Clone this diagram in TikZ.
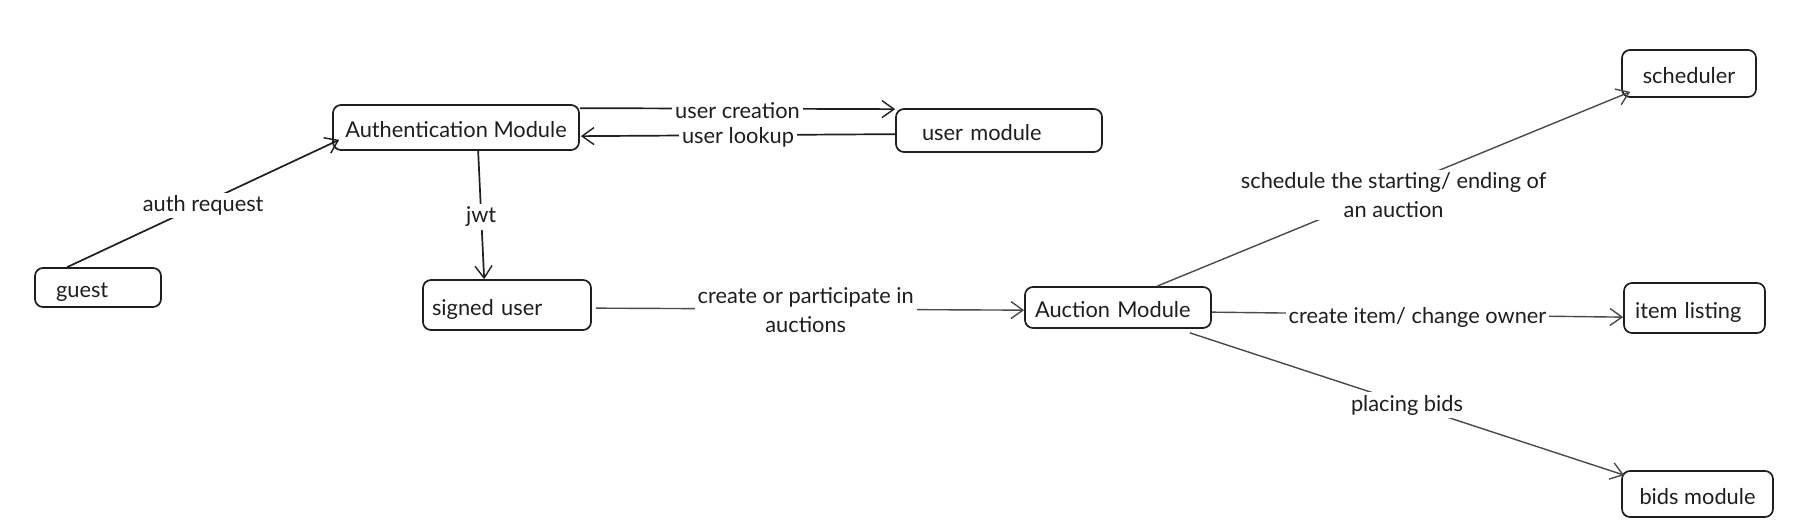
\documentclass[tikz,border=0pt]{standalone}
\usepackage{fontspec}
\setmainfont{Lato}
\usetikzlibrary{arrows.meta}
\definecolor{ink}{HTML}{1E1E1E}
\definecolor{edge}{HTML}{4A4A4A}
\tikzset{
  box/.style={draw=ink, line width=1.7pt, rounded corners=8pt, align=left,
    font=\fontsize{21.8}{26}\selectfont, text=ink, anchor=center,
    text height=20pt, text depth=0pt},
  cbox/.style={box, align=center},
  lbl/.style={fill=white, inner sep=3pt, font=\fontsize{21.8}{28.5}\selectfont, text=ink, align=center},
  conn/.style={draw=edge, line width=1.4pt, -{Straight Barb[length=12pt,width=17pt,line width=1.4pt]}},
  dconn/.style={conn, draw=ink, line width=1.7pt}
}
\begin{document}
\begin{tikzpicture}[x=1pt,y=-1pt]
\useasboundingbox (0,0) rectangle (1818,532);
% boxes
\node[box, minimum height=39pt, inner xsep=21pt, text width=84pt] (guest) at (98,287.5) {guest};
\node[cbox, minimum height=45pt, minimum width=246pt, inner xsep=2pt] (auth) at (456,127.5) {Authentication Module};
\node[box, minimum height=43pt, inner xsep=26pt, text width=154pt] (usermod) at (999,130.5) {user module};
\node[box, minimum height=50pt, inner xsep=9pt, text width=150pt] (signed) at (507,305) {signed user};
\node[box, minimum height=41pt, inner xsep=10pt, text width=166pt] (auction) at (1118,307.5) {Auction Module};
\node[cbox, minimum height=47pt, minimum width=134pt, inner xsep=2pt] (sched) at (1689,73.5) {scheduler};
\node[box, minimum height=50pt, inner xsep=11pt, text width=119pt] (item) at (1694.5,308) {item listing};
\node[cbox, minimum height=46pt, minimum width=151pt, inner xsep=2pt] (bids) at (1697.5,494) {bids module};
% connectors
\draw[dconn] ([xshift=33pt]guest.north west) -- ([shift={(7pt,11pt)}]auth.south west)
  node[lbl, pos=0.5, yshift=-2pt] {auth request};
\draw[dconn] ([yshift=-4pt]auth.north east) -- ([yshift=-1pt]usermod.north west)
  node[lbl, pos=0.5, inner ysep=0pt, yshift=-2pt] {user creation};
\draw[dconn] ([yshift=-26pt]usermod.north west) -- ([shift={(1pt,-32pt)}]auth.north east)
  node[lbl, pos=0.5, inner ysep=0pt, yshift=-2pt] {user lookup};
\draw[dconn] ([xshift=146pt]auth.south west) -- ([xshift=62pt]signed.north west)
  node[lbl, pos=0.5, yshift=-2pt] {jwt};
\draw[conn] ([shift={(4pt,-29pt)}]signed.north east) -- ([yshift=-24pt]auction.north west)
  node[lbl, pos=0.49, yshift=-1pt] {create or participate in\\auctions};
\draw[conn] ([xshift=133pt]auction.north west) -- ([shift={(9pt,6pt)}]sched.south west)
  node[lbl, pos=0.5, yshift=-6pt] {schedule the starting/ ending of\\an auction};
\draw[conn] ([yshift=-26pt]auction.north east) -- ([yshift=-35pt]item.north west)
  node[lbl, pos=0.5, inner ysep=0pt, yshift=-3pt] {create item/ change owner};
\draw[conn] ([shift={(-22pt,-4pt)}]auction.south east) -- ([shift={(3pt,-5pt)}]bids.north west)
  node[lbl, pos=0.5, yshift=-1pt] {placing bids};
\end{tikzpicture}
\end{document}
